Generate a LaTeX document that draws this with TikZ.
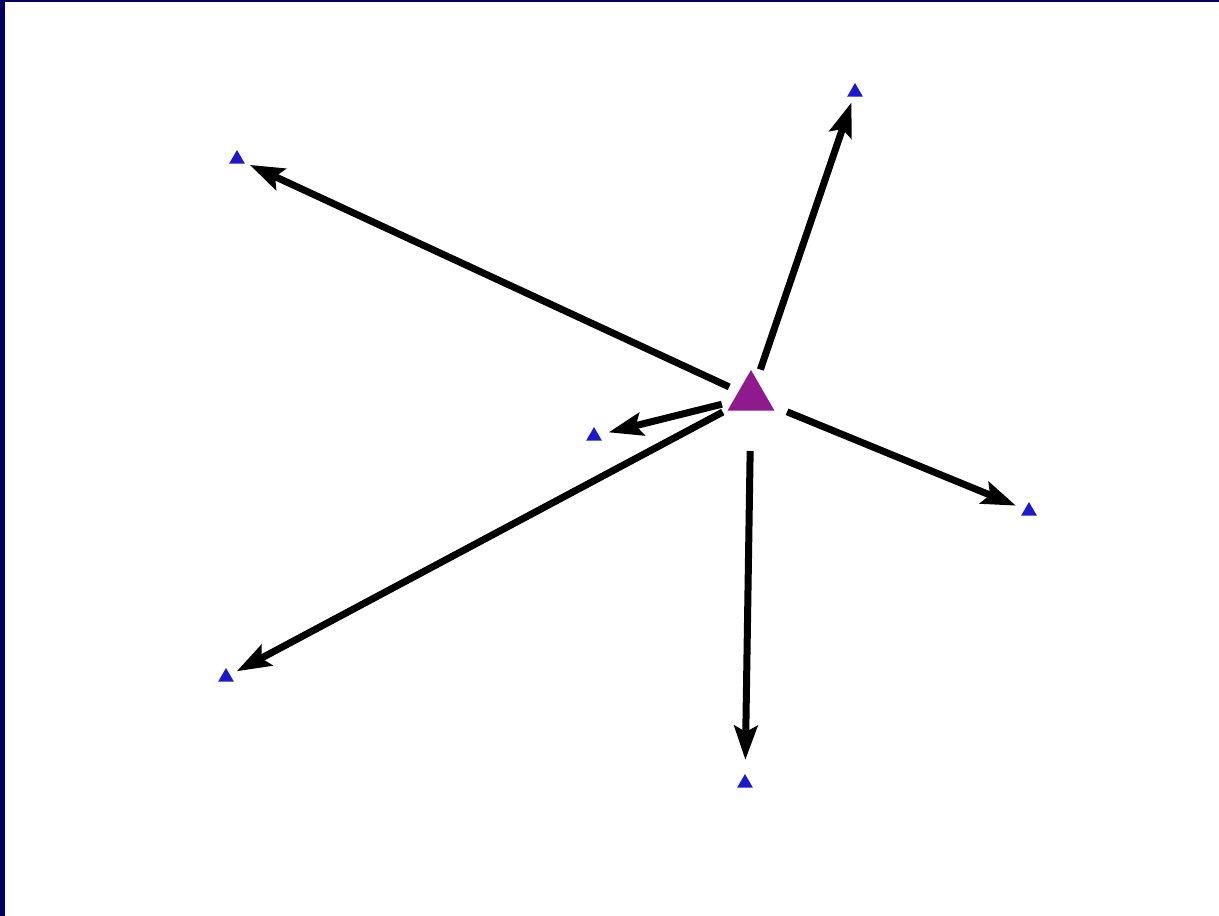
\documentclass[tikz,border=0pt]{standalone}
\usetikzlibrary{arrows.meta,shapes.geometric}
\definecolor{navy}{HTML}{000060}
\definecolor{hubpurple}{HTML}{8E1A8E}
\definecolor{leafblue}{HTML}{1A1ACC}
\begin{document}
\begin{tikzpicture}[x=1pt,y=-1pt,
  hub/.style={regular polygon,regular polygon sides=3,fill=hubpurple,minimum size=54pt,inner sep=0pt},
  leaf/.style={regular polygon,regular polygon sides=3,fill=leafblue,minimum size=18pt,inner sep=0pt},
  link/.style={line width=7pt,-{Stealth[length=34pt,width=23pt,inset=6pt]}}]
\useasboundingbox (0,0) rectangle (1219,916);
\fill[white] (0,0) rectangle (1219,916);
\fill[navy] (0,0) rectangle (5,916);
\fill[navy] (0,0) rectangle (1219,1.5);
\node[hub] (c) at (751,397) {};
\node[leaf] (t1) at (855,92) {};
\node[leaf] (t2) at (237,159) {};
\node[leaf] (t3) at (594,436) {};
\node[leaf] (t4) at (1029,511) {};
\node[leaf] (t5) at (226,677) {};
\node[leaf] (t6) at (745,783) {};
\draw[link,shorten <=29pt,shorten >=11pt] (c.center) -- (t1.center);
\draw[link,shorten <=24pt,shorten >=14pt] (c.center) -- (t2.center);
\draw[link,shorten <=30pt,shorten >=15pt] (c.center) -- (t3.center);
\draw[link,shorten <=39pt,shorten >=14pt] (c.center) -- (t4.center);
\draw[link,shorten <=32pt,shorten >=12pt] (c.center) -- (t5.center);
\draw[link,shorten <=54pt,shorten >=23pt] (c.center) -- (t6.center);
\end{tikzpicture}
\end{document}
